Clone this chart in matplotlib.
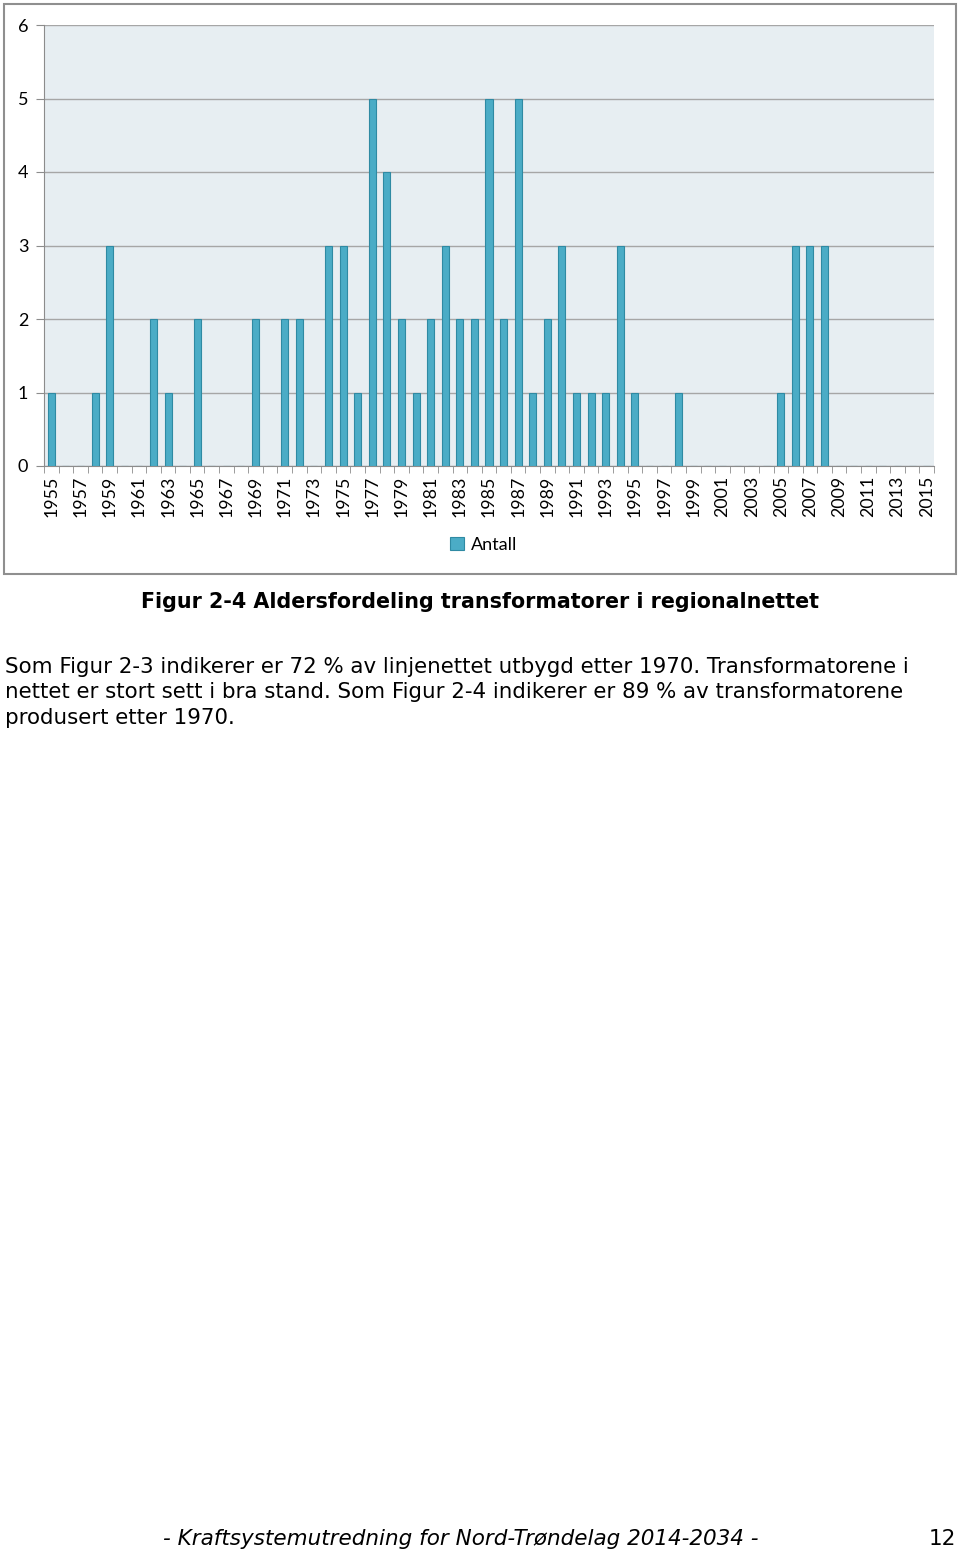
import matplotlib.pyplot as plt
from matplotlib.patches import Rectangle
import numpy as np

# years on the x axis
years = list(range(1955, 2016))

# number of transformers per production year (0 where no bar)
antall_by_year = {
    1955: 1, 1958: 1, 1959: 3, 1962: 2, 1963: 1, 1965: 2, 1969: 2,
    1971: 2, 1972: 2, 1974: 3, 1975: 3, 1976: 1, 1977: 5, 1978: 4,
    1979: 2, 1980: 1, 1981: 2, 1982: 3, 1983: 2, 1984: 2, 1985: 5,
    1986: 2, 1987: 5, 1988: 1, 1989: 2, 1990: 3, 1991: 1, 1992: 1,
    1993: 1, 1994: 3, 1995: 1, 1998: 1, 2005: 1, 2006: 3, 2007: 3,
    2008: 3,
}
antall = [antall_by_year.get(y, 0) for y in years]

y_ticks = [0, 1, 2, 3, 4, 5, 6]

caption = "Figur 2-4 Aldersfordeling transformatorer i regionalnettet"
paragraph = [
    "Som Figur 2-3 indikerer er 72 % av linjenettet utbygd etter 1970. Transformatorene i",
    "nettet er stort sett i bra stand. Som Figur 2-4 indikerer er 89 % av transformatorene",
    "produsert etter 1970.",
]
footer = "- Kraftsystemutredning for Nord-Trøndelag 2014-2034 -"
page_no = "12"

W, H = 960, 1549
fig = plt.figure(figsize=(W / 100, H / 100), dpi=100)


def fx(px):
    return px / W


def fy(py):
    return 1 - py / H


# chart frame
fig.patches.append(Rectangle((fx(4), fy(574)), fx(952), 570 / H,
                             transform=fig.transFigure, fill=False,
                             edgecolor="#8f8f8f", linewidth=1.5))

ax = fig.add_axes([fx(44), fy(466), fx(890), 441 / H])
ax.set_facecolor("#e7eef2")

x = np.arange(len(years))
ax.bar(x, antall, width=0.48, color="#4bacc6", edgecolor="#2f8aa3",
       linewidth=0.8, label="Antall", zorder=3)

ax.set_xlim(-0.5, len(years) - 0.5)
ax.set_ylim(0, 6)
ax.set_yticks(y_ticks)
ax.yaxis.grid(True, color="#a6a6a6", linewidth=1, zorder=0)
ax.set_axisbelow(True)

ax.set_xticks(x)
ax.set_xticklabels([str(y) if (y - 1955) % 2 == 0 else "" for y in years],
                   rotation=90, fontfamily="Lato", fontsize=12.8)
ax.set_xticks(np.arange(-0.5, len(years)), minor=True)
ax.tick_params(axis="x", which="major", length=0, pad=7)
ax.tick_params(axis="x", which="minor", length=5, color="#8c8c8c")
ax.tick_params(axis="y", length=6, color="#8c8c8c", pad=9)
for lab in ax.get_yticklabels():
    lab.set_fontfamily("Lato")
    lab.set_fontsize(13)
    lab.set_horizontalalignment("center")

for s in ["top", "right"]:
    ax.spines[s].set_visible(False)
for s in ["left", "bottom"]:
    ax.spines[s].set_color("#8c8c8c")

leg = fig.legend(loc="center", bbox_to_anchor=(fx(484), fy(545)), frameon=False,
                 prop={"family": "Lato", "size": 13}, handlelength=0.75,
                 handleheight=0.75, handletextpad=0.4)

fig.text(0.5, fy(602), caption, ha="center", va="center",
         fontsize=14.9, fontweight="bold", family="DejaVu Sans")

for i, line in enumerate(paragraph):
    fig.text(fx(5), fy(667 + i * 25.5), line, ha="left", va="center",
             fontsize=15.4, family="DejaVu Sans")

fig.text(fx(163), fy(1539), footer, ha="left", va="center",
         fontsize=15.5, style="italic", family="DejaVu Sans")
fig.text(fx(956), fy(1539), page_no, ha="right", va="center",
         fontsize=15.5, family="DejaVu Sans")

fig.savefig("out.png", dpi=100, facecolor="white")
